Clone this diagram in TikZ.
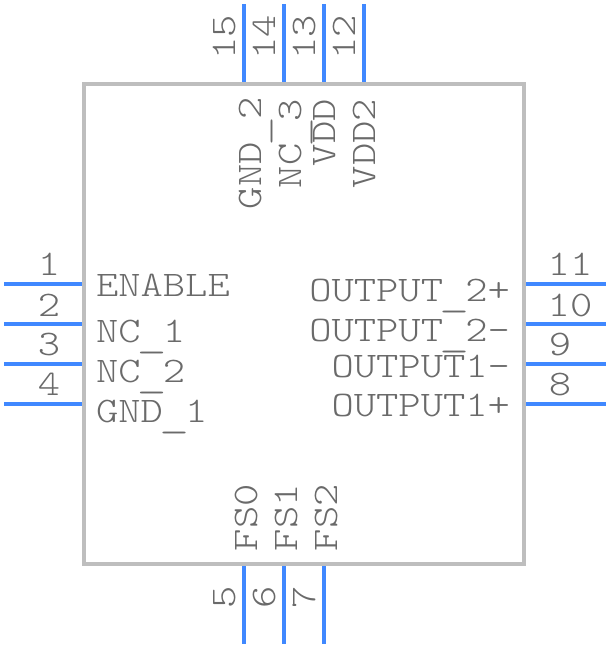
\documentclass[tikz,border=0pt]{standalone}
\usepackage{fontspec}
\usepackage{graphicx}
\setmainfont[FakeStretch=1.18]{Latin Modern Mono Light}
\definecolor{pinblue}{HTML}{4088FF}
\definecolor{boxgray}{HTML}{BEBEBE}
\definecolor{txtgray}{HTML}{6A6A6A}
\newcommand{\lowbar}{\smash{\raisebox{-5pt}{\makebox[22.3pt]{\scalebox{1.35}[1]{\_}}}}}
\tikzset{
  pin line/.style={draw=pinblue,line width=4pt},
  body box/.style={draw=boxgray,line width=4pt,fill=white,inner sep=0pt,outer sep=0pt},
  lbl/.style={inner sep=0pt,outer sep=0pt,text=txtgray,font=\fontsize{36}{36}\selectfont},
  lw/.style={lbl,anchor=base west},
  le/.style={lbl,anchor=base east},
  lc/.style={lbl,anchor=base},
  vw/.style={lbl,anchor=base west,rotate=90},
  vc/.style={lbl,anchor=base,rotate=90}
}
\begin{document}
\begin{tikzpicture}[x=1pt,y=-1pt]
\useasboundingbox (0,0) rectangle (608,648);
\node[body box,minimum width=440pt,minimum height=480pt] (body) at (304,324) {};
% left pins
\foreach \n/\y in {1/284,2/324,3/364,4/404}{
  \coordinate (a\n) at (4,\y); \coordinate (b\n) at (82,\y);
  \draw[pin line] (a\n) -- (b\n);
}
% right pins
\foreach \n/\y in {11/284,10/324,9/364,8/404}{
  \coordinate (a\n) at (526,\y); \coordinate (b\n) at (606,\y);
  \draw[pin line] (a\n) -- (b\n);
}
% top pins
\foreach \n/\x in {15/244,14/284,13/324,12/364}{
  \coordinate (a\n) at (\x,4); \coordinate (b\n) at (\x,82);
  \draw[pin line] (a\n) -- (b\n);
}
% bottom pins
\foreach \n/\x in {5/244,6/284,7/324}{
  \coordinate (a\n) at (\x,566); \coordinate (b\n) at (\x,644);
  \draw[pin line] (a\n) -- (b\n);
}
% pin numbers
\node[lc] (n1) at (49,275) {1};
\node[lc] (n2) at (49,316) {2};
\node[lc] (n3) at (49,355) {3};
\node[lc] (n4) at (49,395) {4};
\node[lc] (n11) at (570,275) {11};
\node[lc] (n10) at (570,316) {10};
\node[lc] (n9) at (560,355) {9};
\node[lc] (n8) at (560,395) {8};
\node[vc] (n15) at (235,37.5) {15};
\node[vc] (n14) at (275,37.5) {14};
\node[vc] (n13) at (315,37.5) {13};
\node[vc] (n12) at (355,37.5) {12};
\node[vc] (n5) at (235,597) {5};
\node[vc] (n6) at (275,597) {6};
\node[vc] (n7) at (315,597) {7};
% pin names
\node[lw] (enable) at (96,296) {ENABLE};
\node[lw] (nc1) at (96,342) {NC\lowbar 1};
\node[lw] (nc2) at (96,382) {NC\lowbar 2};
\node[lw] (gnd1) at (96,422) {GND\lowbar 1};
\node[le] (o2p) at (510,301) {OUTPUT\lowbar 2+};
\node[le] (o2m) at (510,341) {OUTPUT\lowbar 2-};
\node[le] (o1m) at (510,377) {OUTPUT1-};
\node[le] (o1p) at (510,416) {OUTPUT1+};
\node[vw] (gnd2) at (261,209) {GND\lowbar 2};
\node[vw] (nc3) at (301,188) {NC\lowbar 3};
\node[vw] (vdd) at (335,166) {VDD};
\node[vw] (vdd2) at (375,188) {VDD2};
\node[vw] (fs0) at (257,551) {FS0};
\node[vw] (fs1) at (297,551) {FS1};
\node[vw] (fs2) at (337,551) {FS2};
\end{tikzpicture}
\end{document}
